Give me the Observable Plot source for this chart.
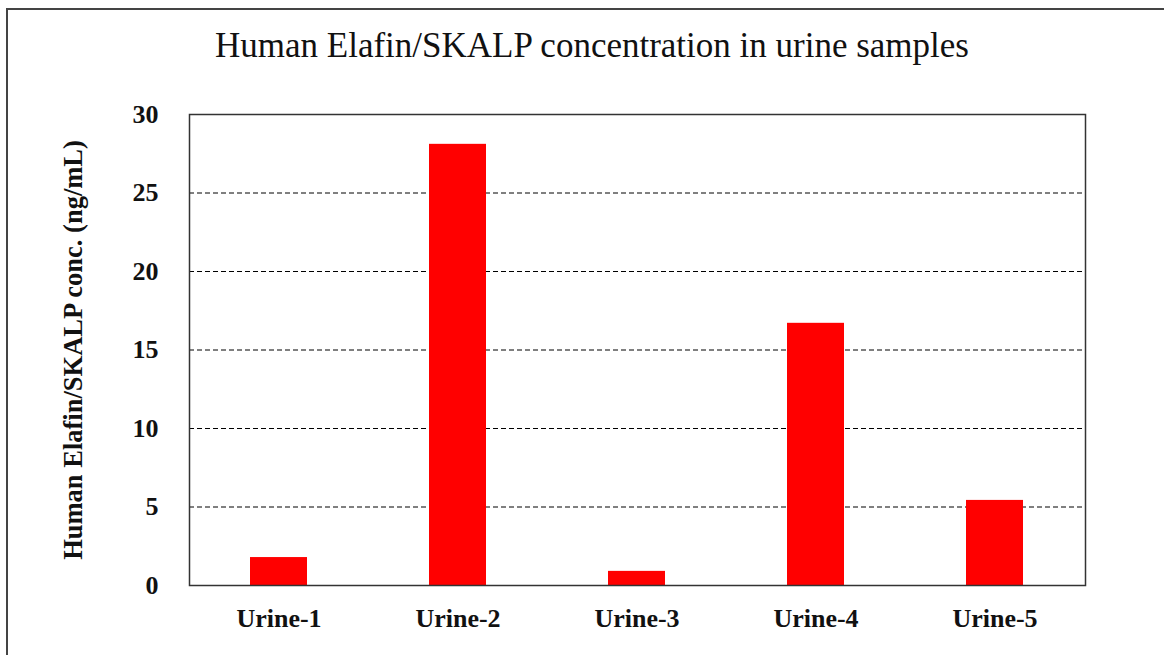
<!DOCTYPE html>
<html>
<head>
<meta charset="utf-8">
<script src="https://cdn.jsdelivr.net/npm/d3@7"></script>
<script src="https://cdn.jsdelivr.net/npm/@observablehq/plot@0.6"></script>
<style>
  html, body { margin: 0; padding: 0; background: #fff; overflow: hidden; }
  #wrap { position: relative; width: 1164px; height: 655px; }
  #frame { position: absolute; left: 6px; top: 8px; width: 1200px; height: 700px;
           border-left: 2px solid #444; border-top: 2px solid #444; }
  #title { position: absolute; left: 0; width: 1184px; top: 26px; text-align: center;
           font-family: "Liberation Serif", serif; font-size: 35px; color: #111; line-height: 1.15; }
  #chart { position: absolute; left: 0; top: 80px; }
</style>
</head>
<body>
<div id="wrap">
  <div id="frame"></div>
  <div id="title">Human Elafin/SKALP concentration in urine samples</div>
  <div id="chart"></div>
</div>
<script>
const samples = ["Urine-1", "Urine-2", "Urine-3", "Urine-4", "Urine-5"];
const concentrations = [1.78, 28.1, 0.9, 16.7, 5.42];
const yTicks = [0, 5, 10, 15, 20, 25, 30];
const gridTicks = [5, 10, 15, 20, 25];
const yLabel = "Human Elafin/SKALP conc. (ng/mL)";

const data = samples.map((s, i) => ({sample: s, value: concentrations[i]}));

const plot = Plot.plot({
  width: 1164,
  height: 575,
  marginLeft: 189,
  marginRight: 79,
  marginTop: 34,
  marginBottom: 70,
  style: {fontFamily: "'Liberation Serif', serif", background: "transparent", overflow: "visible"},
  x: {domain: samples, paddingInner: 0.68, paddingOuter: 0.34, label: null},
  y: {domain: [0, 30], label: null},
  marks: [
    Plot.ruleY(gridTicks, {stroke: "#000", strokeWidth: 1, strokeDasharray: "5,3"}),
    Plot.barY(data, {x: "sample", y: "value", fill: "#ff0000"}),
    Plot.frame({stroke: "#333", strokeWidth: 1.5}),
    Plot.axisY({ticks: yTicks, tickSize: 0, tickPadding: 31, fontSize: 26, fontWeight: "bold", fill: "#111", label: null}),
    Plot.axisX({tickSize: 0, tickPadding: 23, fontSize: 26, fontWeight: "bold", fill: "#111", label: null}),
    Plot.text([yLabel], {frameAnchor: "left", textAnchor: "middle", dx: -116, rotate: -90, fontSize: 26.5, fontWeight: "bold", fill: "#111"})
  ]
});
document.getElementById("chart").appendChild(plot);
</script>
</body>
</html>
